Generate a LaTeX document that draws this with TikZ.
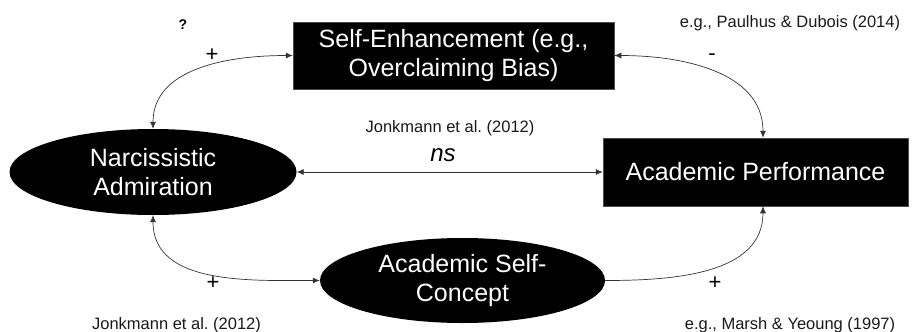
\documentclass[tikz,border=0pt]{standalone}
\usepackage{fontspec}
\setmainfont{Liberation Sans}
\usetikzlibrary{shapes.geometric,arrows.meta}
\tikzset{
  blackbox/.style={rectangle, fill=black, draw=black!70, line width=0.5pt, text=white, font=\fontsize{25}{29}\selectfont, align=center, inner sep=0pt},
  blackell/.style={ellipse, fill=black, text=white, font=\fontsize{25}{29}\selectfont, align=center, inner sep=0pt},
  conn/.style={draw=black!80, line width=0.7pt, {Latex[length=7pt,width=6pt]}-{Latex[length=7pt,width=6pt]}},
  conn1/.style={draw=black!80, line width=0.7pt, -{Latex[length=7pt,width=6pt]}},
  cite/.style={font=\fontsize{16.5}{19}\selectfont, text=black!90, inner sep=0pt},
  sign/.style={font=\fontsize{22}{24}\selectfont, inner sep=0pt},
}
\begin{document}
\frenchspacing
\begin{tikzpicture}[x=1pt,y=-1pt]
\useasboundingbox (0,0) rectangle (913,332);
\node[blackbox, minimum width=321pt, minimum height=67pt] (se) at (453.5,55.5) {Self-Enhancement (e.g.,\\Overclaiming Bias)};
\node[blackbox, minimum width=305pt, minimum height=68pt] (ap) at (755.5,172) {Academic Performance};
\node[blackell, minimum width=287pt, minimum height=86pt] (na) at (153,172) {Narcissistic\\Admiration};
\node[blackell, minimum width=285pt, minimum height=85pt] (asc) at (462.5,280.5) {Academic Self-\\Concept};

\draw[conn] (se.west) to[out=180,in=90] (na.north);
\draw[conn] (se.east) to[out=0,in=90] (ap.north -| 763,0);
\draw[conn] (na.south) to[out=-90,in=180] (asc.west);
\draw[conn1] (asc.east) to[out=0,in=-90] (ap.south -| 763,0);
\draw[conn] (na.east) -- (ap.west);

\node[font=\bfseries\fontsize{14}{16}\selectfont, inner sep=0pt] (q) at (183,25) {?};
\node[sign] (p1) at (212,55) {+};
\node[sign] (m1) at (712,57) {-};
\node[sign] (p2) at (213,283) {+};
\node[sign] (p3) at (715,283) {+};
\node[cite] (c1) at (790,23) {e.g., Paulhus \& Dubois (2014)};
\node[cite] (c2) at (450,128) {Jonkmann et al. (2012)};
\node[font=\itshape\fontsize{24}{26}\selectfont, inner sep=0pt] (ns) at (443,155) {ns};
\node[cite] (c3) at (176.5,325) {Jonkmann et al. (2012)};
\node[cite] (c4) at (790,325) {e.g., Marsh \& Yeoung (1997)};
\end{tikzpicture}
\end{document}
